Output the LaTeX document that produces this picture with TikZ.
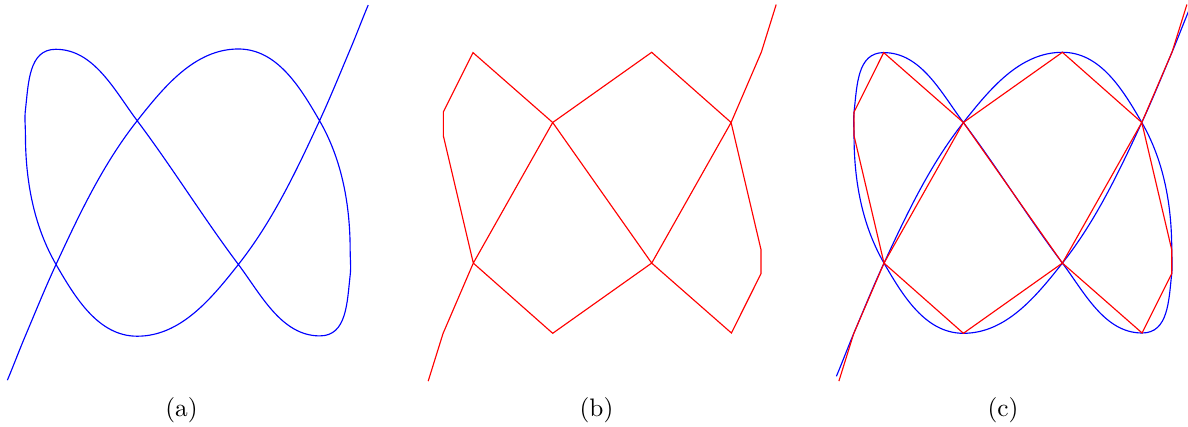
\documentclass[tikz,border=0pt]{standalone}
\tikzset{
  x=0.3953pt, y=-0.3953pt,
  bluecurve/.style={draw=blue, line width=0.45pt},
  redpoly/.style={draw=red, line width=0.45pt, line join=miter},
  caption/.style={inner sep=0pt, font=\normalsize},
}
\newcommand\setpoints[1]{%
  \coordinate (#1b0)  at (-176.5,183.5);
  \coordinate (#1p0)  at (-174,188.3);
  \coordinate (#1p1)  at (-159.2,140.8);
  \coordinate (#1p2)  at (-128.9,70.3);
  \coordinate (#1p3)  at (-49.5,-70.3);
  \coordinate (#1p4)  at (49.5,-140.5);
  \coordinate (#1p5)  at (128.9,-70.3);
  \coordinate (#1p6)  at (158.85,57);
  \coordinate (#1p7)  at (158.85,80.8);
  \coordinate (#1p8)  at (129.2,140.2);
  \coordinate (#1p9)  at (49.5,70.3);
  \coordinate (#1p11) at (-129.2,-140.2);
  \coordinate (#1p12) at (-158.85,-80.8);
  \coordinate (#1p13) at (-158.85,-57);
  \coordinate (#1p15) at (-49.5,140.5);
  \coordinate (#1p18) at (159.2,-140.8);
  \coordinate (#1p19) at (174,-188.3);
  \coordinate (#1b19) at (176.5,-183.5);
}
\newcommand\bluepath[1]{%
  \draw[bluecurve] (#1b0)
    .. controls +(6.0,-14.2) and +(-6.0,14.2) .. (#1p1)
    .. controls +(10.0,-23.6) and +(-10.75,23.2) .. (#1p2)
    .. controls +(22.7,-49.0) and +(-33.5,42.4) .. (#1p3)
    .. controls +(26.4,-33.4) and +(-42.6,0) .. (#1p4)
    .. controls +(37.9,0) and +(-18.95,-32.8) .. (#1p5)
    .. controls +(22.2,38.5) and +(0,-44.4) .. (#1p6)
    .. controls +(0,7.95) and +(0.95,-7.9) .. (#1p7)
    .. controls +(-3.05,26.5) and +(26.5,0) .. (#1p8)
    .. controls +(-37.4,0) and +(22.4,29.9) .. (#1p9)
    .. controls +(-34.4,-45.8) and +(34.4,45.8) .. (#1p3)
    .. controls +(-22.4,-29.9) and +(37.4,0) .. (#1p11)
    .. controls +(-26.5,0) and +(3.05,-26.5) .. (#1p12)
    .. controls +(-0.95,7.9) and +(0,-7.95) .. (#1p13)
    .. controls +(0,44.4) and +(-22.2,-38.5) .. (#1p2)
    .. controls +(18.95,32.8) and +(-37.9,0) .. (#1p15)
    .. controls +(42.6,0) and +(-26.4,33.4) .. (#1p9)
    .. controls +(33.5,-42.4) and +(-22.7,49.0) .. (#1p5)
    .. controls +(10.75,-23.2) and +(-10.0,23.6) .. (#1p18)
    .. controls +(6.0,-14.2) and +(-6.0,14.2) .. (#1b19);
}
\newcommand\redpath[1]{%
  \draw[redpoly] (#1p0) -- (#1p1) -- (#1p2) -- (#1p3) -- (#1p4) -- (#1p5)
    -- (#1p6) -- (#1p7) -- (#1p8) -- (#1p9) -- (#1p3) -- (#1p11) -- (#1p12)
    -- (#1p13) -- (#1p2) -- (#1p15) -- (#1p9) -- (#1p5) -- (#1p18) -- (#1p19);
}
\begin{document}
\begin{tikzpicture}
\useasboundingbox (0,0) rectangle (1188,427);
% (a) curve only
\begin{scope}[shift={(187.8,192.6)}, scale=1.022]
  \setpoints{a}
  \bluepath{a}
\end{scope}
% (b) polygon only
\begin{scope}[shift={(602.2,192.8)}]
  \setpoints{b}
  \redpath{b}
\end{scope}
% (c) both
\begin{scope}[shift={(1012.9,192.8)}]
  \setpoints{c}
  \bluepath{c}
  \redpath{c}
\end{scope}
\node[caption] (la) at (181.5,410.5) {(a)};
\node[caption] (lb) at (596.5,410.5) {(b)};
\node[caption] (lc) at (1003,410.5) {(c)};
\end{tikzpicture}
\end{document}
